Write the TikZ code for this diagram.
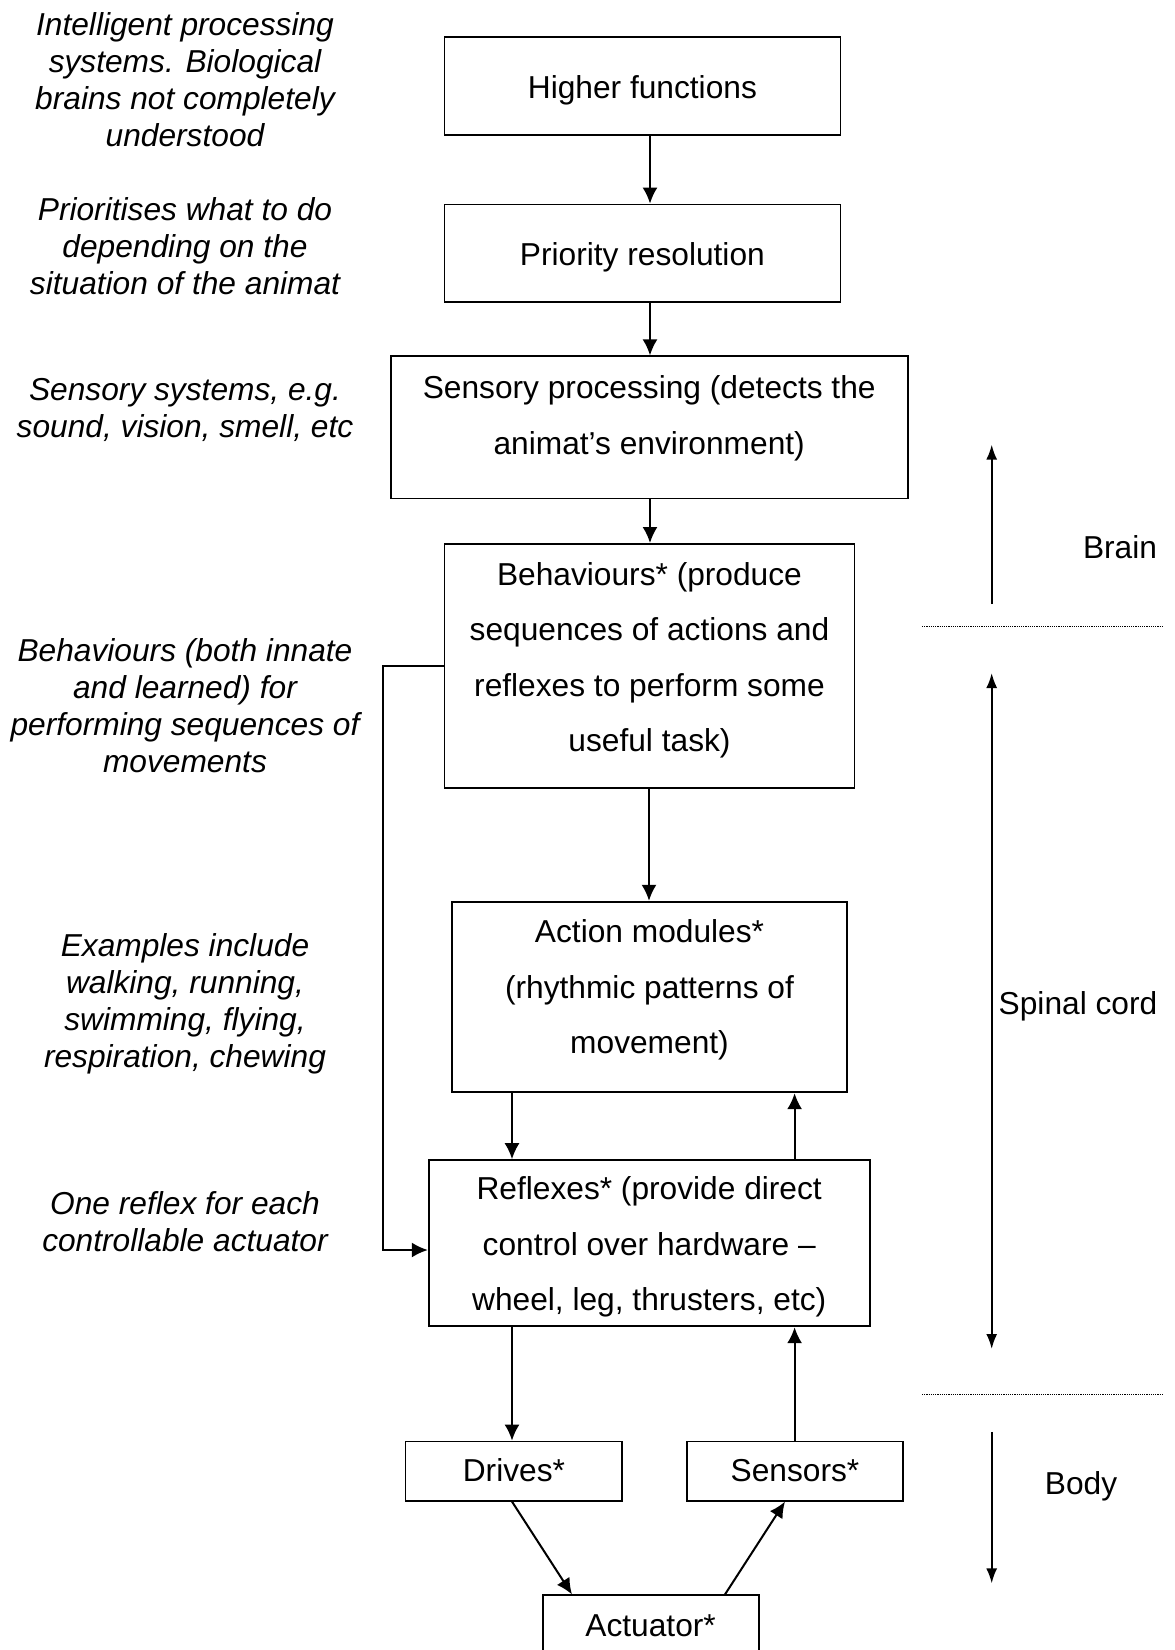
\documentclass[tikz,border=0pt]{standalone}
\usepackage{fontspec}
\setmainfont{Liberation Sans}
\usetikzlibrary{arrows.meta}

% box text: first baseline sits "text height" below the top edge
\newcommand{\boxlines}[1]{\begin{tabular}[t]{@{}c@{}}#1\end{tabular}}

\begin{document}
\begin{tikzpicture}[x=1pt,y=-1pt,
  every node/.style={font=\fontsize{31.7}{55.5}\selectfont, inner sep=0pt},
  box/.style={draw, line width=1.8pt, anchor=north},
  note/.style={anchor=base, font=\fontsize{31.7}{37}\selectfont\itshape},
  side/.style={anchor=base},
  arr/.style={line width=2pt, -{Latex[length=16pt,width=15pt]}},
  scalearr/.style={line width=2pt, -{Latex[length=15pt,width=11pt]}},
  twoarr/.style={line width=2pt, {Latex[length=15pt,width=11pt]}-{Latex[length=15pt,width=11pt]}},
  sep/.style={line width=0.9pt, dash pattern=on 1.1pt off 1.1pt}]

\useasboundingbox (0,0) rectangle (1175,1650);

% ---- main chain of boxes ----
\node[box, minimum width=396pt, text height=62pt, text depth=36pt] (hf) at (642.4,36)
  {\boxlines{Higher functions}};
\node[box, minimum width=396pt, text height=61.4pt, text depth=36pt] (pr) at (642.4,203.6)
  {\boxlines{Priority resolution}};
\node[box, minimum width=517pt, text height=42.6pt, text depth=99.5pt] (sp) at (649.2,355.4)
  {\boxlines{Sensory processing (detects the\\animat’s environment)}};
\node[box, minimum width=410pt, text height=41.5pt, text depth=202.2pt] (bh) at (649.5,543)
  {\boxlines{Behaviours* (produce\\sequences of actions and\\reflexes to perform some\\useful task)}};
\node[box, minimum width=395pt, text height=41.2pt, text depth=149.4pt] (am) at (649.5,900.8)
  {\boxlines{Action modules*\\(rhythmic patterns of\\movement)}};
\node[box, minimum width=441pt, text height=39.8pt, text depth=126.4pt] (rf) at (649.2,1159.2)
  {\boxlines{Reflexes* (provide direct\\control over hardware –\\wheel, leg, thrusters, etc)}};
\node[box, minimum width=216.7pt, text height=40.4pt, text depth=18.8pt] (dr) at (513.9,1440.6)
  {\boxlines{Drives*}};
\node[box, minimum width=216.7pt, text height=40.4pt, text depth=18.8pt] (sn) at (795,1440.6)
  {\boxlines{Sensors*}};
\node[box, minimum width=216pt, text height=41.6pt, text depth=78pt] (ac) at (650.6,1594.4)
  {\boxlines{Actuator*}};

% ---- connectors ----
\draw[arr] (650,0 |- hf.south) -- (650,0 |- pr.north);
\draw[arr] (650,0 |- pr.south) -- (650,0 |- sp.north);
\draw[arr] (650,0 |- sp.south) -- (650,0 |- bh.north);
\draw[arr] (649,0 |- bh.south) -- (649,0 |- am.north);
\draw[arr] (512,0 |- am.south) -- (512,0 |- rf.north);
\draw[arr] (794.6,0 |- rf.north) -- (794.6,0 |- am.south);
\draw[arr] (512,0 |- rf.south) -- (512,0 |- dr.north);
\draw[arr] (794.6,0 |- sn.north) -- (794.6,0 |- rf.south);
\draw[arr] (512,0 |- dr.south) -- (572,0 |- ac.north);
\draw[arr] (725,0 |- ac.north) -- (785,0 |- sn.south);

% bypass from behaviours straight down to reflexes
\coordinate (fb) at (383,1250);
\draw[arr, line width=1.8pt] (bh.west) -| (fb) -- (fb -| rf.west);

% ---- left-hand notes ----
\node[note] (n1) at (185,35) {\boxlines{Intelligent processing\\systems. Biological\\brains not completely\\understood}};
\node[note] (n2) at (185,220) {\boxlines{Prioritises what to do\\depending on the\\situation of the animat}};
\node[note] (n3) at (185,400) {\boxlines{Sensory systems, e.g.\\sound, vision, smell, etc}};
\node[note] (n4) at (185,661) {\boxlines{Behaviours (both innate\\and learned) for\\performing sequences of\\movements}};
\node[note] (n5) at (185,956) {\boxlines{Examples include\\walking, running,\\swimming, flying,\\respiration, chewing}};
\node[note] (n6) at (185,1214) {\boxlines{One reflex for each\\controllable actuator}};

% ---- right-hand scale: brain / spinal cord / body ----
\coordinate (brainlo) at (991.7,604);
\coordinate (brainhi) at (991.7,444.6);
\coordinate (spinetop) at (991.7,673);
\coordinate (spinebot) at (991.7,1349);
\coordinate (bodytop) at (991.7,1431.9);
\coordinate (bodybot) at (991.7,1583.4);
\coordinate (cut1l) at (922,626.4);
\coordinate (cut1r) at (1163,626.4);
\coordinate (cut2l) at (922,1394.4);
\coordinate (cut2r) at (1163,1394.4);

\draw[scalearr] (brainlo) -- (brainhi);
\draw[twoarr] (spinetop) -- (spinebot);
\draw[scalearr] (bodytop) -- (bodybot);
\draw[sep] (cut1l) -- (cut1r);
\draw[sep] (cut2l) -- (cut2r);

\node[side] (lbrain) at (1120,558) {Brain};
\node[side] (lspine) at (1078,1014) {Spinal cord};
\node[side] (lbody) at (1081,1494) {Body};
\end{tikzpicture}
\end{document}
